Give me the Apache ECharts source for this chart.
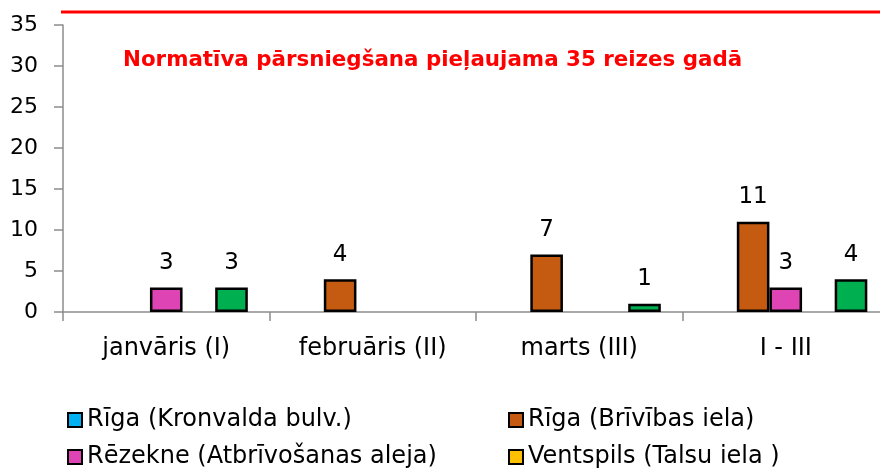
<!DOCTYPE html>
<html>
<head>
<meta charset="utf-8">
<script src="https://cdn.jsdelivr.net/npm/echarts@6/dist/echarts.min.js"></script>
<style>
  html, body { margin: 0; padding: 0; background: #fff; overflow: hidden; }
  /* a bit wider than the window: the plot runs past the right edge in the original */
  #chart { width: 890px; height: 472px; }
</style>
</head>
<body>
<div id="chart"></div>
<script>
const months = ["janvāris (I)", "februāris (II)", "marts (III)", "I - III"];
const yTicks = [0, 5, 10, 15, 20, 25, 30, 35];
const kronvalda = [null, null, null, null];
const brivibas = [null, 4, 7, 11];
const rezekne = [3, null, null, 3];
const ventspils = [null, null, null, null];
const liepaja = [3, null, 1, 4];
const normLimit = 35;
const normText = "Normatīva pārsniegšana pieļaujama " + normLimit + " reizes gadā";

const font = "'DejaVu Sans', sans-serif";

const chart = echarts.init(document.getElementById("chart"));

function bar(name, data, color) {
  return {
    name: name,
    type: "bar",
    data: data,
    barGap: "0%",
    barCategoryGap: "21%",
    itemStyle: { color: color, borderColor: "#000", borderWidth: 2.5 },
    label: {
      show: true,
      position: "top",
      distance: 13,
      color: "#000",
      fontSize: 23,
      fontFamily: font
    }
  };
}

// one legend per item so the two columns line up like the original
function legendItem(name, left, top) {
  return {
    data: [name],
    left: left,
    top: top,
    padding: 0,
    itemWidth: 14,
    itemHeight: 14,
    icon: "rect",
    itemStyle: { borderColor: "#000", borderWidth: 2 },
    textStyle: { fontSize: 24, lineHeight: 28, color: "#000", fontFamily: font },
    selectedMode: false
  };
}

chart.setOption({
  backgroundColor: "#fff",
  animation: false,
  grid: { left: 63, width: 826, top: 25, height: 287, containLabel: false },
  legend: [
    legendItem("Rīga (Kronvalda bulv.)", 67, 406),
    legendItem("Rīga (Brīvības iela)", 508, 406),
    legendItem("Rēzekne (Atbrīvošanas aleja)", 67, 443),
    legendItem("Ventspils (Talsu iela )", 508, 443)
  ],
  xAxis: {
    type: "category",
    data: months,
    axisLine: { lineStyle: { color: "#8c8c8c", width: 1.5 } },
    axisTick: { show: true, length: 9, lineStyle: { color: "#8c8c8c", width: 1.5 } },
    axisLabel: { color: "#000", fontSize: 24, fontFamily: font, margin: 25 }
  },
  yAxis: {
    type: "value",
    min: 0,
    max: yTicks[yTicks.length - 1],
    interval: 5,
    splitLine: { show: false },
    axisLine: { show: true, lineStyle: { color: "#8c8c8c", width: 1.5 } },
    axisTick: { show: true, length: 9, lineStyle: { color: "#8c8c8c", width: 1.5 } },
    axisLabel: { color: "#000", fontSize: 22, fontFamily: font, margin: 25 }
  },
  graphic: [
    {
      type: "line",
      shape: { x1: 61, y1: 12, x2: 890, y2: 12 },
      style: { stroke: "#ff0000", lineWidth: 3 }
    },
    {
      type: "text",
      left: 123,
      top: 50,
      style: {
        text: normText,
        fill: "#ff0000",
        font: "bold 21.4px " + font
      }
    }
  ],
  series: [
    bar("Rīga (Kronvalda bulv.)", kronvalda, "#00b0f0"),
    bar("Rīga (Brīvības iela)", brivibas, "#c55a11"),
    bar("Rēzekne (Atbrīvošanas aleja)", rezekne, "#df44b4"),
    bar("Ventspils (Talsu iela )", ventspils, "#ffc000"),
    bar("Liepāja (Laktas iela)", liepaja, "#00b050")
  ]
});
</script>
</body>
</html>
